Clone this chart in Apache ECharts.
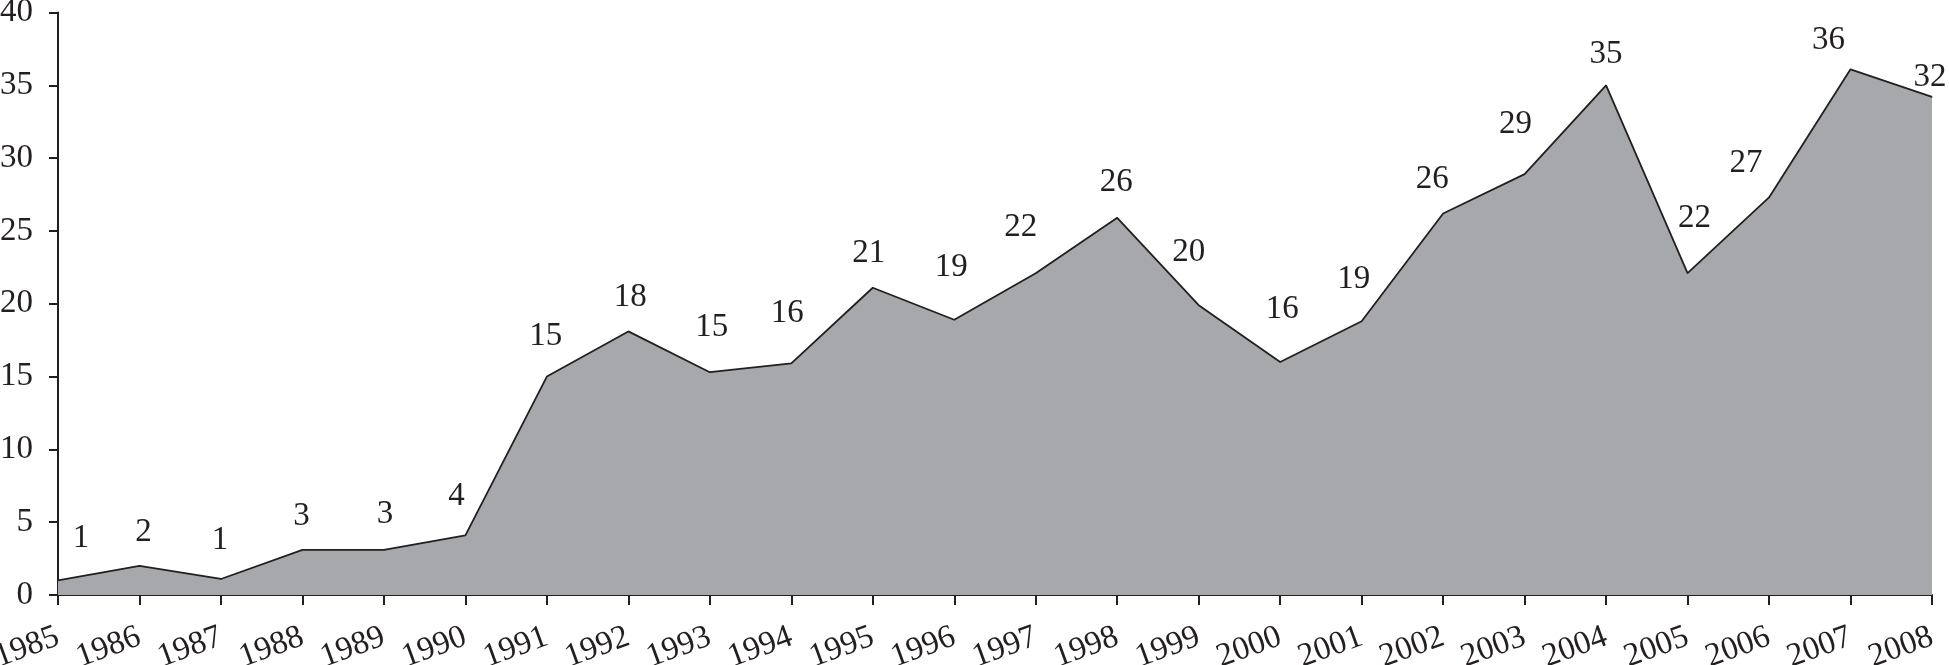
<!DOCTYPE html>
<html>
<head>
<meta charset="utf-8">
<script src="https://cdn.jsdelivr.net/npm/echarts@6/dist/echarts.min.js"></script>
<style>
	html, body { margin: 0; padding: 0; background: #fff; }
	#chart { width: 1949px; height: 665px; }
</style>
</head>
<body>
<div id="chart"></div>
<script>
// years on the x axis
const years = ['1985', '1986', '1987', '1988', '1989', '1990', '1991', '1992', '1993', '1994', '1995', '1996',
	'1997', '1998', '1999', '2000', '2001', '2002', '2003', '2004', '2005', '2006', '2007', '2008'];
// plotted heights
const counts = [1, 2, 1.1, 3.1, 3.1, 4.1, 15, 18.1, 15.3, 15.9, 21.1, 18.9,
	22.1, 25.9, 19.9, 16, 18.8, 26.2, 28.9, 35, 22.1, 27.3, 36.1, 34.2];
// printed value labels
const labelText = ['1', '2', '1', '3', '3', '4', '15', '18', '15', '16', '21', '19',
	'22', '26', '20', '16', '19', '26', '29', '35', '22', '27', '36', '32'];
// y axis ticks
const yTicks = [0, 5, 10, 15, 20, 25, 30, 35, 40];

// nudges for each value label, relative to its point
const labelShift = [[23, -42], [4, -34], [-1, -39], [-1, -34], [1, -36], [-9, -39], [-1, -40], [2, -34],
	[2, -45], [-4, -50], [-4, -34], [-3, -52], [-15, -46], [-1, -36], [-10, -53], [2, -53],
	[-8, -42], [-11, -34], [-9, -50], [0, -31], [7, -55], [-23, -34], [-22, -29], [-2, -20]];

const ink = '#231f20';
const font = '"Liberation Serif", "Times New Roman", serif';
const size = 33;

const chart = echarts.init(document.getElementById('chart'));

const option = {
	animation: false,
	grid: {
		left: 58,
		right: 17,
		top: 12.5,
		bottom: 70,
		containLabel: false,
		outerBoundsMode: 'none'
	},
	xAxis: {
		type: 'category',
		data: years,
		boundaryGap: false,
		axisLine: { lineStyle: { color: ink, width: 2 } },
		axisTick: { show: true, inside: false, length: 10, interval: 0, lineStyle: { color: ink, width: 2 } },
		axisLabel: {
			interval: 0,
			rotate: 20,
			margin: 41,
			color: ink,
			fontFamily: font,
			fontSize: size,
			hideOverlap: false
		},
		splitLine: { show: false }
	},
	yAxis: {
		type: 'value',
		min: yTicks[0],
		max: yTicks[yTicks.length - 1],
		interval: 5,
		axisLine: { show: true, lineStyle: { color: ink, width: 2 } },
		axisTick: { show: true, inside: false, length: 9, lineStyle: { color: ink, width: 2 } },
		axisLabel: {
			margin: 25,
			color: ink,
			fontFamily: font,
			fontSize: size
		},
		splitLine: { show: false }
	},
	series: [
		{
			type: 'line',
			data: counts.map((v, i) => ({ value: v, label: { offset: labelShift[i] } })),
			symbol: 'circle',
			symbolSize: 1,
			itemStyle: { color: ink },
			lineStyle: { color: ink, width: 1.8 },
			areaStyle: { color: '#a7a8ab', opacity: 1 },
			label: {
				show: true,
				position: 'inside',
				formatter: p => labelText[p.dataIndex],
				color: ink,
				fontFamily: font,
				fontSize: size
			},
			z: 1
		}
	]
};

chart.setOption(option);
</script>
</body>
</html>
